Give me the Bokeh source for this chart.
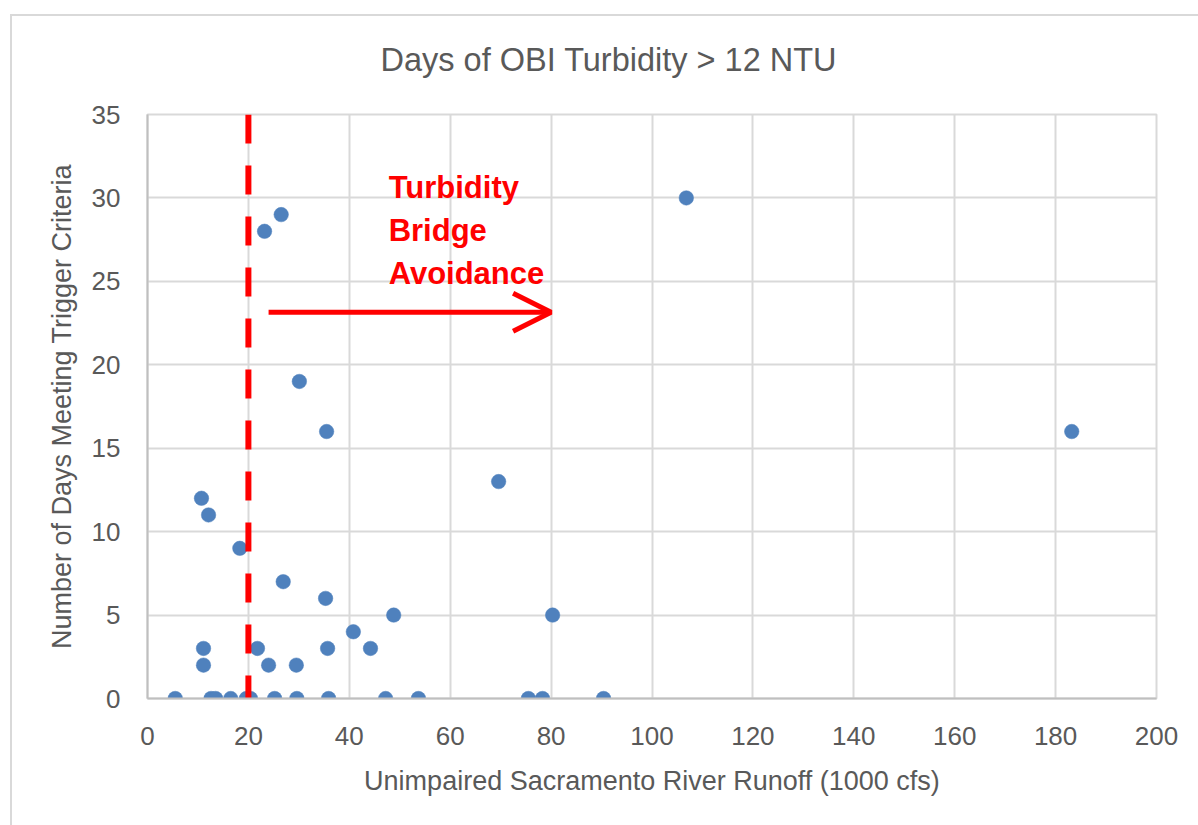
from bokeh.plotting import figure
from bokeh.models import Range1d, FixedTicker, Arrow, OpenHead, Label
from bokeh.embed import file_html
from bokeh.resources import INLINE

# ---- data ----
runoff = [5.5, 12.6, 13.5, 16.5, 19.6, 20.4, 25.2, 29.6, 35.9, 47.2, 53.7, 75.5, 78.3, 90.4,
          11.1, 24.0, 29.5,
          11.1, 21.8, 35.7, 44.2,
          40.8,
          48.8, 80.3,
          35.3,
          26.9,
          18.3,
          12.1,
          10.7,
          69.6,
          35.5, 183.2,
          30.1,
          23.2,
          26.5,
          106.8]
days = [0, 0, 0, 0, 0, 0, 0, 0, 0, 0, 0, 0, 0, 0,
        2, 2, 2,
        3, 3, 3, 3,
        4,
        5, 5,
        6,
        7,
        9,
        11,
        12,
        13,
        16, 16,
        19,
        28,
        29,
        30]
x_ticks = [0, 20, 40, 60, 80, 100, 120, 140, 160, 180, 200]
y_ticks = [0, 5, 10, 15, 20, 25, 30, 35]
threshold_x = 20
arrow_from, arrow_to, arrow_level = 24, 80, 23.15
note_lines = ["Turbidity", "Bridge", "Avoidance"]
title_text = "Days of OBI Turbidity > 12 NTU"
x_label = "Unimpaired Sacramento River Runoff (1000 cfs)"
y_label = "Number of Days Meeting Trigger Criteria"

FONT = "Liberation Sans"
GRAY = "#595959"

p = figure(width=1198, height=825, output_backend="svg", toolbar_location=None,
           x_range=Range1d(0, 200), y_range=Range1d(0, 35),
           min_border_left=147, min_border_right=42, min_border_top=114, min_border_bottom=127)
p.border_fill_color = None
p.styles = {
    "background": ("linear-gradient(#d9d9d9, #d9d9d9) 10px 14px / 2px 100% no-repeat, "
                   "linear-gradient(#d9d9d9, #d9d9d9) 10px 14px / 100% 2px no-repeat, white"),
}

p.title.text = title_text
p.title.align = "left"
p.title.offset = 233
p.title.text_font = FONT
p.title.text_font_size = "32.5px"
p.title.text_font_style = "normal"
p.title.text_color = GRAY
if "standoff" in p.title.properties():
    p.title.standoff = 74

for ax, ticks in ((p.xaxis, x_ticks), (p.yaxis, y_ticks)):
    ax.ticker = FixedTicker(ticks=ticks)
    ax.major_tick_out = 0
    ax.major_tick_in = 0
    ax.minor_tick_out = 0
    ax.minor_tick_in = 0
    ax.axis_line_color = "#bfbfbf"
    ax.axis_line_width = 2
    ax.major_label_text_font = FONT
    ax.major_label_text_font_size = "26px"
    ax.major_label_text_color = GRAY
    ax.axis_label_text_font = FONT
    ax.axis_label_text_font_size = "27px"
    ax.axis_label_text_font_style = "normal"
    ax.axis_label_text_color = GRAY

p.xaxis.axis_label = x_label
p.yaxis.axis_label = y_label
p.xaxis.major_label_standoff = 28
p.yaxis.major_label_standoff = 27
p.xaxis.axis_label_standoff = 18
p.yaxis.axis_label_standoff = 12

p.xgrid.ticker = FixedTicker(ticks=x_ticks)
p.ygrid.ticker = FixedTicker(ticks=y_ticks)
p.grid.grid_line_color = "#d9d9d9"
p.grid.grid_line_width = 2
p.outline_line_color = "#d9d9d9"
p.outline_line_width = 2

p.scatter(runoff, days, size=14.5, fill_color="#4f81bd", line_color="#4f81bd", line_width=0.5)

p.segment(x0=[threshold_x], y0=[35], x1=[threshold_x], y1=[0],
          line_color="#ff0000", line_width=6, line_dash="29 22")

p.add_layout(Arrow(end=OpenHead(size=38, line_color="#ff0000", line_width=5),
                   x_start=arrow_from, y_start=arrow_level, x_end=arrow_to, y_end=arrow_level,
                   line_color="#ff0000", line_width=5))

for i, t in enumerate(note_lines):
    p.add_layout(Label(x=47.8, y=30.62 - i * 2.57, text=t, text_font=FONT,
                       text_font_size="31px", text_font_style="bold", text_color="#ff0000",
                       text_baseline="alphabetic", text_align="left"))

open("out.html", "w").write(file_html(p, INLINE))
